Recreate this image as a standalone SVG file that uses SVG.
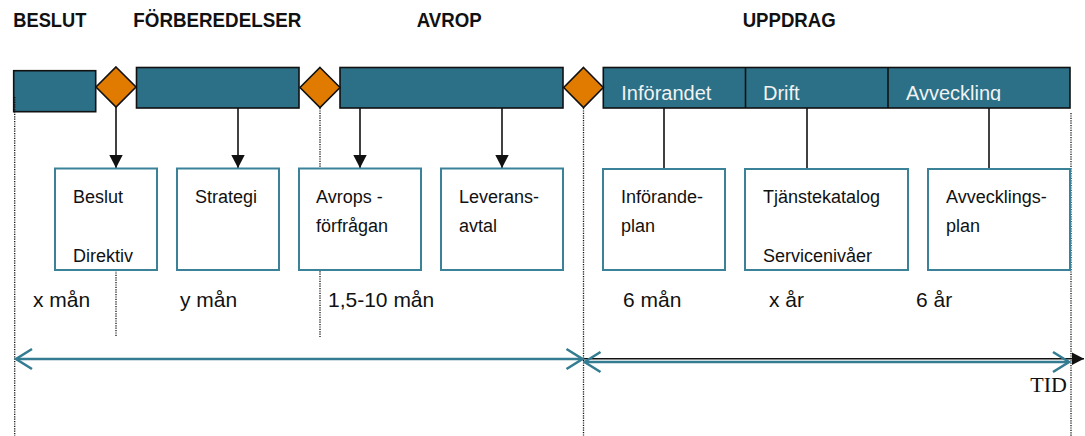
<svg xmlns="http://www.w3.org/2000/svg" width="1085" height="436" viewBox="0 0 1085 436">
<style>
.hdr{font-family:"Liberation Sans",Arial,sans-serif;font-weight:bold;font-size:21px;fill:#111}
.bar{fill:#2b7087;stroke:#111;stroke-width:1.6}
.dia{fill:#e07b00;stroke:#111;stroke-width:1.6}
.seg{font-family:"Liberation Sans",Arial,sans-serif;font-size:20px;fill:#f2f2f2}
.box{fill:#fff;stroke:#3b8299;stroke-width:2}
.bt{font-family:"Liberation Sans",Arial,sans-serif;font-size:18px;fill:#111}
.dur{font-family:"Liberation Sans",Arial,sans-serif;font-size:21px;fill:#111}
.dot{stroke:#111;stroke-width:1.3;stroke-dasharray:1.2 1.2;fill:none}
.conn{stroke:#111;stroke-width:1.6;fill:none}
.span{stroke:#347c91;stroke-width:2.6;fill:none}
</style>
<defs>
<marker id="ah" viewBox="-14 -8 15 16" refX="0" refY="0" markerWidth="15" markerHeight="16" markerUnits="userSpaceOnUse" orient="auto">
<path d="M-13,-6.7 L0,0 L-13,6.7 Z" fill="#111"/>
</marker>
<marker id="chev" viewBox="-19 -12 21 24" refX="0" refY="0" markerWidth="21" markerHeight="24" markerUnits="userSpaceOnUse" orient="auto-start-reverse">
<path d="M-16,-10 L0,0 L-16,10" fill="none" stroke="#347c91" stroke-width="2.6"/>
</marker>
<marker id="dh" viewBox="-13 -7 14 14" refX="0" refY="0" markerWidth="14" markerHeight="14" markerUnits="userSpaceOnUse" orient="auto">
<path d="M-12,-6.3 L0,0 L-12,6.3 Z" fill="#111"/>
</marker>
<clipPath id="segclip"><rect x="603" y="67" width="468" height="34"/></clipPath>
</defs>

<g id="headers">
<text class="hdr" x="13.3" y="27" textLength="73" lengthAdjust="spacingAndGlyphs">BESLUT</text>
<text class="hdr" x="133.3" y="27" textLength="168" lengthAdjust="spacingAndGlyphs">FÖRBEREDELSER</text>
<text class="hdr" x="416.7" y="27" textLength="65" lengthAdjust="spacingAndGlyphs">AVROP</text>
<text class="hdr" x="742.7" y="27" textLength="93" lengthAdjust="spacingAndGlyphs">UPPDRAG</text>
</g>

<g id="guides">
<line class="dot" x1="116" y1="270" x2="116" y2="337"/>
<line class="dot" x1="320" y1="108" x2="320" y2="337"/>
<line class="dot" x1="583.5" y1="108" x2="583.5" y2="436"/>
<line class="dot" x1="1071" y1="113" x2="1071" y2="436"/>
</g>

<g id="phase-bar">
<rect class="bar" x="13.7" y="70.7" width="82" height="41"/>
<rect class="bar" x="136.5" y="67.5" width="162.5" height="40.5"/>
<rect class="bar" x="340" y="67.5" width="223" height="40.5"/>
<rect class="bar" x="603.3" y="67.5" width="466.7" height="40.5"/>
<line class="conn" x1="745.5" y1="67.5" x2="745.5" y2="108"/>
<line class="conn" x1="888" y1="67.5" x2="888" y2="108"/>
<g clip-path="url(#segclip)">
<text class="seg" x="621.3" y="100">Införandet</text>
<text class="seg" x="763" y="100">Drift</text>
<text class="seg" x="906" y="100">Avveckling</text>
</g>
</g>
<line class="dot" x1="14.7" y1="97" x2="14.7" y2="436"/>

<g id="milestones">
<polygon class="dia" points="116,67 136,87 116,107 96,87"/>
<polygon class="dia" points="320,67.5 340,87.5 320,107.5 300,87.5"/>
<polygon class="dia" points="583.5,67.5 603.3,87.5 583.5,107.5 563.7,87.5"/>
</g>

<g id="connectors">
<line class="conn" x1="116" y1="107" x2="116" y2="168" marker-end="url(#ah)"/>
<line class="conn" x1="238" y1="108" x2="238" y2="168" marker-end="url(#ah)"/>
<line class="conn" x1="360" y1="108" x2="360" y2="168" marker-end="url(#ah)"/>
<line class="conn" x1="502" y1="108" x2="502" y2="168" marker-end="url(#ah)"/>
<line class="conn" x1="664" y1="108" x2="664" y2="169"/>
<line class="conn" x1="807" y1="108" x2="807" y2="169"/>
<line class="conn" x1="989" y1="108" x2="989" y2="169"/>
</g>

<g id="box-beslut">
<rect class="box" x="55" y="168.5" width="102" height="101.5"/>
<text class="bt" x="73" y="203">Beslut</text>
<text class="bt" x="73" y="262">Direktiv</text>
</g>
<g id="box-strategi">
<rect class="box" x="177" y="168.5" width="102" height="101.5"/>
<text class="bt" x="195" y="203">Strategi</text>
</g>
<g id="box-avrop">
<rect class="box" x="299" y="168.5" width="122" height="101.5"/>
<text class="bt" x="316" y="203">Avrops -</text>
<text class="bt" x="316" y="232">förfrågan</text>
</g>
<g id="box-leverans">
<rect class="box" x="441" y="168.5" width="122" height="101.5"/>
<text class="bt" x="459" y="203">Leverans-</text>
<text class="bt" x="459" y="232">avtal</text>
</g>
<g id="box-inforande">
<rect class="box" x="603" y="169" width="122" height="101"/>
<text class="bt" x="621" y="203">Införande-</text>
<text class="bt" x="621" y="232">plan</text>
</g>
<g id="box-tjanst">
<rect class="box" x="745" y="169" width="163" height="101"/>
<text class="bt" x="763" y="203">Tjänstekatalog</text>
<text class="bt" x="763" y="262">Servicenivåer</text>
</g>
<g id="box-avveckling">
<rect class="box" x="928" y="169" width="142" height="101"/>
<text class="bt" x="946" y="203">Avvecklings-</text>
<text class="bt" x="946" y="232">plan</text>
</g>

<g id="durations">
<text class="dur" x="33" y="307">x mån</text>
<text class="dur" x="180" y="307">y mån</text>
<text class="dur" x="328" y="307">1,5-10 mån</text>
<text class="dur" x="623" y="307">6 mån</text>
<text class="dur" x="769" y="307">x år</text>
<text class="dur" x="916" y="307">6 år</text>
</g>

<g id="timeline">
<line class="conn" x1="15" y1="358.7" x2="1084" y2="358.7" marker-end="url(#dh)"/>
<line class="span" x1="16" y1="359" x2="582.5" y2="359" marker-start="url(#chev)" marker-end="url(#chev)"/>
<line class="span" x1="584.5" y1="362" x2="1069" y2="362" marker-start="url(#chev)" marker-end="url(#chev)"/>
<text x="1067" y="392" text-anchor="end" font-family="'Liberation Serif','Times New Roman',serif" font-size="22" fill="#111">TID</text>
</g>
</svg>
